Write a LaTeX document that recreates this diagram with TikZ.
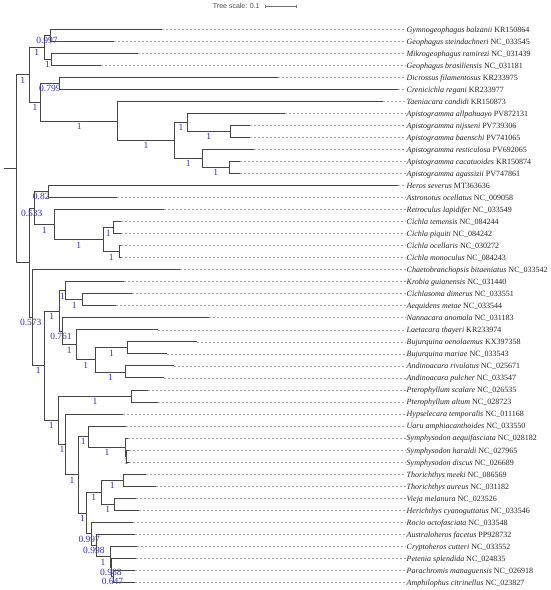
\documentclass[tikz,border=0pt]{standalone}
\usepackage{fontspec}
\setmainfont{Liberation Serif}
\newfontfamily\scalefont{Liberation Sans}
\usetikzlibrary{arrows.meta}
\definecolor{supblue}{RGB}{45,45,235}
\definecolor{brcol}{RGB}{70,70,70}
\tikzset{
  br/.style={draw=brcol, line width=0.8pt},
  dashline/.style={draw=black!35, line width=0.6pt, dash pattern=on 2pt off 2pt},
  leaf/.style={anchor=west, inner sep=0pt, text height=7pt, text depth=1pt, text=black!85, font=\fontsize{8}{9}\selectfont},
  sup/.style={inner sep=0pt, text=supblue, yshift=-5.3pt, font=\fontsize{9.5}{10}\selectfont},
  scaletxt/.style={inner sep=0pt, text=black!70, font=\scalefont\fontsize{7}{8}\selectfont},
}
\begin{document}
\begin{tikzpicture}[x=1pt,y=-1pt]
\useasboundingbox[fill=white] (0,0) rectangle (550,590);
% scale bar
\node[scaletxt] (sc) at (236.3,6) {Tree scale: 0.1};
\coordinate (sb1) at (265,6);
\coordinate (sb2) at (297,6);
\draw[draw=black!55, line width=0.6pt, {Bar[width=3pt]}-{Bar[width=3pt]}] (sb1) -- (sb2);
% leaves
\foreach \i/\xe/\spn/\acc in {
1/161.7/Gymnogeophagus balzanii/KR150864,
2/114.3/Geophagus steindachneri/NC\_033545,
3/137.7/Mikrogeophagus ramirezi/NC\_031439,
4/100.7/Geophagus brasiliensis/NC\_031181,
5/277.7/Dicrossus filamentosus/KR233975,
6/398.3/Crenicichla regani/KR233977,
7/383.3/Taeniacara candidi/KR150873,
8/285/Apistogramma allpahuayo/PV872131,
9/250/Apistogramma nijsseni/PV739306,
10/250/Apistogramma baenschi/PV741065,
11/254.3/Apistogramma resticulosa/PV692065,
12/240/Apistogramma cacatuoides/KR150874,
13/240/Apistogramma agassizii/PV747861,
14/398.3/Heros severus/MT363636,
15/116.7/Astronotus ocellatus/NC\_009058,
16/164.3/Retroculus lapidifer/NC\_033549,
17/121/Cichla temensis/NC\_084244,
18/121/Cichla piquiti/NC\_084242,
19/121/Cichla ocellaris/NC\_030272,
20/121/Cichla monoculus/NC\_084243,
21/180/Chaetobranchopsis bitaeniatus/NC\_033542,
22/124/Krobia guianensis/NC\_031440,
23/131.7/Cichlasoma dimerus/NC\_033551,
24/115.7/Aequidens metae/NC\_033544,
25/209.3/Nannacara anomala/NC\_031183,
26/158.3/Laetacara thayeri/KR233974,
27/196.7/Bujurquina oenolaemus/KX397358,
28/166.7/Bujurquina mariae/NC\_033543,
29/174/Andinoacara rivulatus/NC\_025671,
30/164/Andinoacara pulcher/NC\_033547,
31/148.3/Pterophyllum scalare/NC\_026535,
32/158.3/Pterophyllum altum/NC\_028723,
33/122.7/Hypselecara temporalis/NC\_011168,
34/126/Uaru amphiacanthoides/NC\_033550,
35/128.3/Symphysodon aequifasciata/NC\_028182,
36/129/Symphysodon haraldi/NC\_027965,
37/129/Symphysodon discus/NC\_026689,
38/145.7/Thorichthys meeki/NC\_086569,
39/155.7/Thorichthys aureus/NC\_031182,
40/136/Vieja melanura/NC\_023526,
41/139.3/Herichthys cyanoguttatus/NC\_033546,
42/133.3/Rocio octofasciata/NC\_033548,
43/135/Australoheros facetus/PP928732,
44/136.7/Cryptoheros cutteri/NC\_033552,
45/136/Petenia splendida/NC\_024835,
46/135/Parachromis managuensis/NC\_026918,
47/135/Amphilophus citrinellus/NC\_023827}{
  \coordinate (l\i) at (\xe,{29.3+12.02*(\i-1)});
  \node[leaf] (t\i) at (406.5,{29.3+12.02*(\i-1)}) {\textit{\spn} \acc};
  \draw[dashline] (l\i) -- ([xshift=-1pt]t\i.west);
}
% internal nodes
\coordinate (r0) at (4,168.8);
\coordinate (R) at (16.3,168.8);
\coordinate (A) at (29.3,74.75);
\coordinate (G) at (44,47.3);
\coordinate (G1) at (50,35.3);
\coordinate (G2) at (51,59.35);
\coordinate (B) at (40.7,102.2);
\coordinate (B1) at (59,83.4);
\coordinate (C) at (117.7,120.95);
\coordinate (D) at (174.3,140.5);
\coordinate (D1) at (187.7,122.45);
\coordinate (D11) at (230,131.5);
\coordinate (D2) at (202.3,158.5);
\coordinate (D21) at (229,167.5);
\coordinate (E) at (29.3,262.85);
\coordinate (F) at (34.3,208.1);
\coordinate (F1) at (48.3,191.6);
\coordinate (F2) at (54.3,224.6);
\coordinate (F3) at (103.3,239.65);
\coordinate (F31) at (113.3,227.6);
\coordinate (F32) at (119,251.7);
\coordinate (H) at (32.3,317.6);
\coordinate (I) at (44.3,365.55);
\coordinate (J) at (59.3,311);
\coordinate (J1) at (65.7,290.7);
\coordinate (J11) at (82.7,299.75);
\coordinate (K) at (62.7,331.3);
\coordinate (K1) at (76,344.8);
\coordinate (K2) at (95.7,359.85);
\coordinate (K21) at (127.3,347.8);
\coordinate (K22) at (125.3,371.9);
\coordinate (L) at (58.3,420.1);
\coordinate (L1) at (131.7,395.9);
\coordinate (M) at (65.7,444.3);
\coordinate (N) at (78.3,474.7);
\coordinate (O) at (88.3,436.5);
\coordinate (O1) at (125.7,447);
\coordinate (O2) at (126.7,456);
\coordinate (P) at (86.7,512.9);
\coordinate (Q) at (101,492.1);
\coordinate (Q1) at (123.3,480.05);
\coordinate (Q2) at (114.3,504.1);
\coordinate (S) at (91.7,533.75);
\coordinate (T) at (96,545.4);
\coordinate (U) at (110,556.7);
\coordinate (V) at (111.7,567.2);
\coordinate (W) at (113.3,576.2);
% branches
\draw[br] (r0) -- (R);
\draw[br] (R) |- node[sup,pos=.75] (sA) {1} (A);
\draw[br] (R) |- (E);
\draw[br] (A) |- node[sup,pos=.75] (sG) {1} (G);
\draw[br] (A) |- node[sup,pos=.75] (sB) {1} (B);
\draw[br] (G) |- node[sup,pos=.75] (sG1) {0.997} (G1);
\draw[br] (G) |- node[sup,pos=.75] (sG2) {1} (G2);
\draw[br] (G1) |- (l1);
\draw[br] (G1) |- (l2);
\draw[br] (G2) |- (l3);
\draw[br] (G2) |- (l4);
\draw[br] (B) |- node[sup,pos=.75] (sB1) {0.799} (B1);
\draw[br] (B) |- node[sup,pos=.75] (sC) {1} (C);
\draw[br] (B1) |- (l5);
\draw[br] (B1) |- (l6);
\draw[br] (C) |- (l7);
\draw[br] (C) |- node[sup,pos=.75] (sD) {1} (D);
\draw[br] (D) |- node[sup,pos=.75] (sD1) {1} (D1);
\draw[br] (D) |- node[sup,pos=.75] (sD2) {1} (D2);
\draw[br] (D1) |- (l8);
\draw[br] (D1) |- node[sup,pos=.75] (sD11) {1} (D11);
\draw[br] (D11) |- (l9);
\draw[br] (D11) |- (l10);
\draw[br] (D2) |- (l11);
\draw[br] (D2) |- node[sup,pos=.75] (sD21) {1} (D21);
\draw[br] (D21) |- (l12);
\draw[br] (D21) |- (l13);
\draw[br] (E) |- node[sup,pos=.75] (sF) {0.533} (F);
\draw[br] (E) |- node[sup,pos=.75] (sH) {0.573} (H);
\draw[br] (F) |- node[sup,pos=.75] (sF1) {0.82} (F1);
\draw[br] (F) |- node[sup,pos=.75] (sF2) {1} (F2);
\draw[br] (F1) |- (l14);
\draw[br] (F1) |- (l15);
\draw[br] (F2) |- (l16);
\draw[br] (F2) |- node[sup,pos=.75] (sF3) {1} (F3);
\draw[br] (F3) |- node[sup,pos=.75] (sF31) {1} (F31);
\draw[br] (F3) |- node[sup,pos=.75] (sF32) {1} (F32);
\draw[br] (F31) |- (l17);
\draw[br] (F31) |- (l18);
\draw[br] (F32) |- (l19);
\draw[br] (F32) |- (l20);
\draw[br] (H) |- (l21);
\draw[br] (H) |- node[sup,pos=.75] (sI) {1} (I);
\draw[br] (I) |- node[sup,pos=.75] (sJ) {1} (J);
\draw[br] (I) |- node[sup,pos=.75] (sL) {1} (L);
\draw[br] (J) |- node[sup,pos=.75] (sJ1) {1} (J1);
\draw[br] (J) |- node[sup,pos=.75] (sK) {0.761} (K);
\draw[br] (J1) |- (l22);
\draw[br] (J1) |- node[sup,pos=.75] (sJ11) {1} (J11);
\draw[br] (J11) |- (l23);
\draw[br] (J11) |- (l24);
\draw[br] (K) |- (l25);
\draw[br] (K) |- node[sup,pos=.75] (sK1) {1} (K1);
\draw[br] (K1) |- (l26);
\draw[br] (K1) |- node[sup,pos=.75] (sK2) {1} (K2);
\draw[br] (K2) |- node[sup,pos=.75] (sK21) {1} (K21);
\draw[br] (K2) |- node[sup,pos=.75] (sK22) {1} (K22);
\draw[br] (K21) |- (l27);
\draw[br] (K21) |- (l28);
\draw[br] (K22) |- (l29);
\draw[br] (K22) |- (l30);
\draw[br] (L) |- node[sup,pos=.75] (sL1) {1} (L1);
\draw[br] (L) |- node[sup,pos=.75] (sM) {1} (M);
\draw[br] (L1) |- (l31);
\draw[br] (L1) |- (l32);
\draw[br] (M) |- (l33);
\draw[br] (M) |- node[sup,pos=.75] (sN) {1} (N);
\draw[br] (N) |- node[sup,pos=.75] (sO) {1} (O);
\draw[br] (N) |- node[sup,pos=.75] (sP) {1} (P);
\draw[br] (O) |- (l34);
\draw[br] (O) |- node[sup,pos=.75] (sO1) {1} (O1);
\draw[br] (O1) |- (l35);
\draw[br] (O1) |- node[sup,pos=.75] (sO2) {1} (O2);
\draw[br] (O2) |- (l36);
\draw[br] (O2) |- (l37);
\draw[br] (P) |- node[sup,pos=.75] (sQ) {1} (Q);
\draw[br] (P) |- node[sup,pos=.75] (sS) {0.997} (S);
\draw[br] (Q) |- node[sup,pos=.75] (sQ1) {1} (Q1);
\draw[br] (Q) |- node[sup,pos=.75] (sQ2) {1} (Q2);
\draw[br] (Q1) |- (l38);
\draw[br] (Q1) |- (l39);
\draw[br] (Q2) |- (l40);
\draw[br] (Q2) |- (l41);
\draw[br] (S) |- (l42);
\draw[br] (S) |- node[sup,pos=.75] (sT) {0.998} (T);
\draw[br] (T) |- (l43);
\draw[br] (T) |- node[sup,pos=.75] (sU) {1} (U);
\draw[br] (U) |- (l44);
\draw[br] (U) |- node[sup,pos=.75] (sV) {0.988} (V);
\draw[br] (V) |- (l45);
\draw[br] (V) |- node[sup,pos=.75] (sW) {0.647} (W);
\draw[br] (W) |- (l46);
\draw[br] (W) |- (l47);
\end{tikzpicture}
\end{document}
